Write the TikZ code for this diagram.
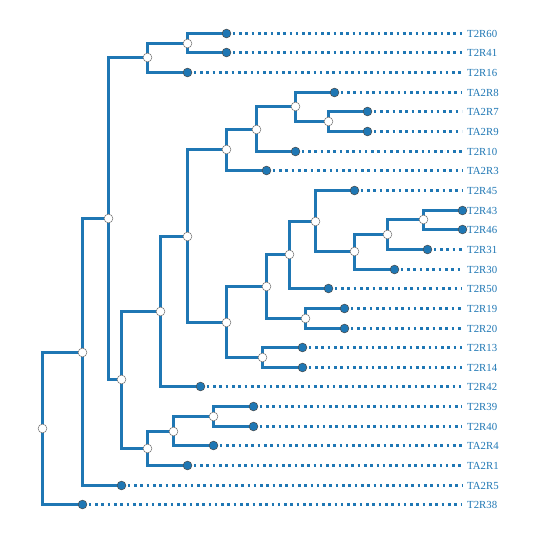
\documentclass[tikz,border=0pt]{standalone}
\usepackage{fontspec}
\setmainfont{Liberation Serif}
\definecolor{tblue}{HTML}{1F77B4}
\pgfdeclarelayer{bg}
\pgfsetlayers{bg,main}
\begin{document}
\begin{tikzpicture}[x=1pt,y=-1pt,
 branch/.style={draw=tblue,line width=2.8pt},
 dotl/.style={draw=tblue,line width=2.6pt,dash pattern=on 2.6pt off 3.7pt},
 inode/.style={circle,fill=white,draw=black!55,line width=0.5pt,minimum size=8.8pt,inner sep=0pt},
 lnode/.style={circle,fill=tblue,draw=black!70,line width=0.5pt,minimum size=8.8pt,inner sep=0pt},
 lab/.style={anchor=base west,text=tblue,font=\fontsize{10.8}{12}\selectfont,inner sep=0pt}]
\useasboundingbox (0,0) rectangle (539,539);
% leaves
\foreach \i/\x/\t in {0/226/T2R60,1/226/T2R41,2/187/T2R16,3/334/TA2R8,4/367/TA2R7,5/367/TA2R9,
  6/295/T2R10,7/266/TA2R3,8/354/T2R45,9/462/T2R43,10/462/T2R46,11/427/T2R31,12/394/T2R30,
  13/328/T2R50,14/344/T2R19,15/344/T2R20,16/302/T2R13,17/302/T2R14,18/200/T2R42,19/253/T2R39,
  20/253/T2R40,21/213/TA2R4,22/187/TA2R1,23/121/TA2R5,24/82/T2R38}{
  \node[lnode] (l\i) at ({\x+0.5},{floor(33.3+19.65*\i)+0.5}) {};
  \node[lab] (t\i) at (467,{floor(33.3+19.65*\i)+4.2}) {\t};
}
% internal nodes
\foreach \n/\x/\y in {n4/187/43.5,n3/147/57.5,n11/328/121.5,n10/295/106.5,n9/256/129.5,
  n8/226/149.5,n18/423/219.5,n17/387/234.5,n16/354/251.5,n15/315/221.5,n14/289/254.5,
  n19/305/318.5,n13/266/286.5,n20/262/357.5,n12/226/322.5,n7/187/236.5,n6/160/311.5,
  n23/213/416.5,n22/173/431.5,n21/147/448.5,n5/121/379.5,n2/108/218.5,n1/82/352.5,r/42/428.5}{
  \node[inode] (\n) at ({\x+0.5},\y) {};
}
\begin{pgfonlayer}{bg}
\foreach \p/\c in {r/n1,r/l24,n1/n2,n1/l23,n2/n3,n2/n5,n3/n4,n3/l2,n4/l0,n4/l1,n5/n6,n5/n21,
  n6/n7,n6/l18,n7/n8,n7/n12,n8/n9,n8/l7,n9/n10,n9/l6,n10/l3,n10/n11,n11/l4,n11/l5,
  n12/n13,n12/n20,n13/n14,n13/n19,n14/n15,n14/l13,n15/l8,n15/n16,n16/n17,n16/l12,
  n17/n18,n17/l11,n18/l9,n18/l10,n19/l14,n19/l15,n20/l16,n20/l17,n21/n22,n21/l22,
  n22/n23,n22/l21,n23/l19,n23/l20}{
  \draw[branch] (\p.center) |- (\c.center);
}
\foreach \i in {0,...,8,11,12,...,24}{
  \draw[dotl,shorten >=5pt] (l\i.center) -- (l\i.center -| t\i.west);
}
\end{pgfonlayer}
\end{tikzpicture}
\end{document}
